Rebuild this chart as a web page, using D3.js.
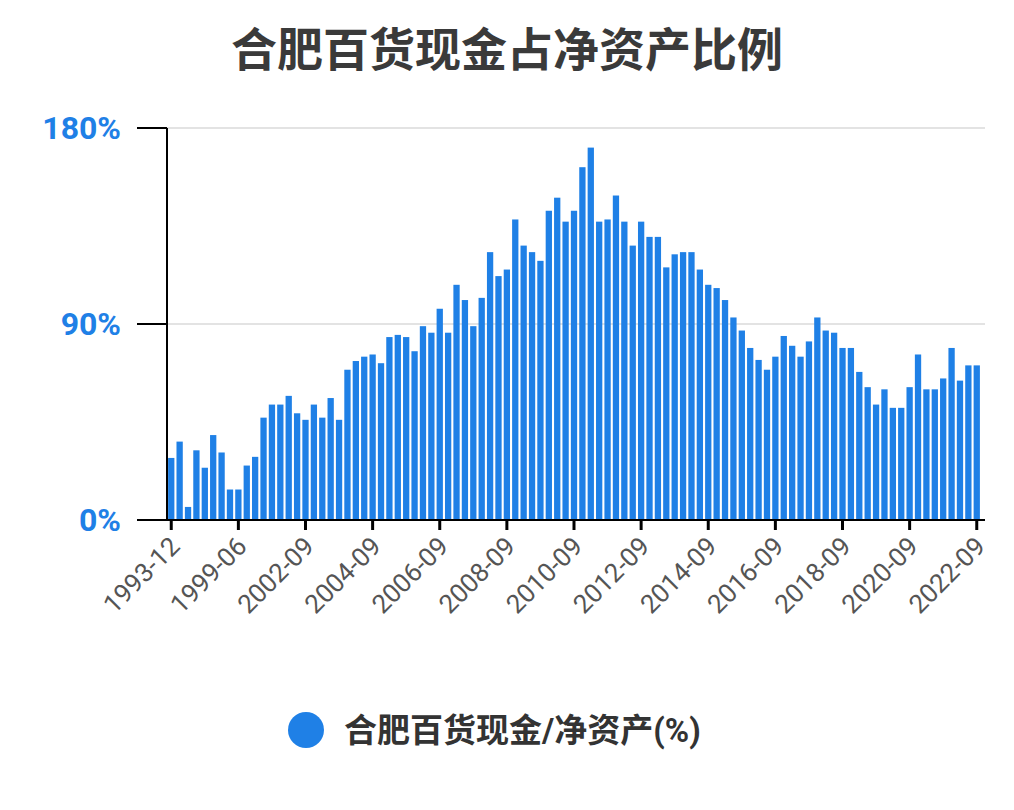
<!DOCTYPE html>
<html>
<head>
<meta charset="utf-8">
<script src="https://d3js.org/d3.v7.min.js"></script>
<style>
  body { margin: 0; background: #fff; }
  text { font-family: Roboto, "Noto Sans CJK SC", sans-serif; }
</style>
</head>
<body>
<svg id="chart" width="1014" height="810"></svg>
<script>
// category labels: early sparse reports, then quarterly from 2002-09
var earlyDates = ["1993-12", "1994-12", "1995-06", "1995-12", "1996-06", "1996-12", "1997-12", "1998-12",
                  "1999-06", "1999-12", "2000-06", "2000-12", "2001-06", "2001-12", "2002-03", "2002-06"];
var quarterDates = [];
for (var yr = 2002; yr <= 2022; yr++) {
  ["03", "06", "09", "12"].forEach(function (m) {
    var d = yr + "-" + m;
    if (d >= "2002-09" && d <= "2022-09") quarterDates.push(d);
  });
}
var dates = earlyDates.concat(quarterDates);

// cash / net assets (%)
var values = [28.5, 36, 6, 32, 24, 39, 31, 14, 14, 25, 29, 47, 53, 53, 57, 49,
              46, 53, 47, 56, 46, 69, 73, 75, 76, 72, 84, 85, 84, 77.5, 89, 86,
              97, 86, 108, 101, 89, 102, 123, 112, 115, 138, 126, 123, 119, 142, 148, 137,
              142, 162, 171, 137, 138, 149, 137, 126, 137, 130, 130, 116, 122, 123, 123, 115,
              108, 106.5, 101, 93, 87, 79, 73.5, 69, 75, 84.5, 80, 75, 82, 93, 87, 86,
              79, 79, 68, 61, 53, 60, 51.5, 51.5, 61, 76, 60, 60, 65, 79, 64, 71, 71];

var tickLabels = ["1993-12", "1999-06", "2002-09", "2004-09", "2006-09", "2008-09", "2010-09",
                  "2012-09", "2014-09", "2016-09", "2018-09", "2020-09", "2022-09"];
var yTicks = [0, 90, 180];

var svg = d3.select("#chart");
var blue = "#1f80e6";

var x = d3.scaleBand().domain(dates).range([166, 982]).padding(0.25);
var y = d3.scaleLinear().domain([0, 180]).range([520, 128]);

// title
svg.append("text").attr("x", 507).attr("y", 66).attr("text-anchor", "middle")
  .attr("font-size", 46).attr("font-weight", "bold").attr("fill", "#3a3a3a")
  .text("合肥百货现金占净资产比例");

// gridlines
svg.selectAll(".grid").data(yTicks.filter(d => d > 0)).enter().append("line")
  .attr("x1", 167).attr("x2", 985)
  .attr("y1", d => y(d)).attr("y2", d => y(d))
  .attr("stroke", "#e3e3e3").attr("stroke-width", 2);

// bars
svg.selectAll(".bar").data(values).enter().append("rect")
  .attr("x", (d, i) => x(dates[i]))
  .attr("width", x.bandwidth())
  .attr("y", d => y(d))
  .attr("height", d => y(0) - y(d))
  .attr("fill", blue);

// y axis
svg.append("line").attr("x1", 167).attr("x2", 167).attr("y1", 128).attr("y2", 521)
  .attr("stroke", "#000").attr("stroke-width", 2);
svg.selectAll(".ylab").data(yTicks).enter().append("text")
  .attr("x", 121).attr("y", d => y(d) + 11).attr("text-anchor", "end")
  .attr("font-size", 32).attr("font-weight", "bold").attr("fill", blue)
  .text(d => d + "%");
svg.selectAll(".ytick").data(yTicks).enter().append("line")
  .attr("x1", 137).attr("x2", 167).attr("y1", d => y(d)).attr("y2", d => y(d))
  .attr("stroke", "#000").attr("stroke-width", 2);

// x axis
svg.append("line").attr("x1", 137).attr("x2", 985).attr("y1", 520).attr("y2", 520)
  .attr("stroke", "#000").attr("stroke-width", 2);
var cx = d => x(d) + x.bandwidth() / 2;
svg.selectAll(".xtick").data(tickLabels).enter().append("line")
  .attr("x1", cx).attr("x2", cx).attr("y1", 520).attr("y2", 530)
  .attr("stroke", "#000").attr("stroke-width", 3);
svg.selectAll(".xlab").data(tickLabels).enter().append("text")
  .attr("transform", d => "translate(" + (cx(d) + 10) + ",548) rotate(-45)")
  .attr("text-anchor", "end").attr("font-size", 26).attr("fill", "#555")
  .text(d => d);

// legend
svg.append("circle").attr("cx", 306).attr("cy", 730).attr("r", 18).attr("fill", blue);
svg.append("text").attr("x", 344).attr("y", 742)
  .attr("font-size", 33).attr("font-weight", "bold").attr("fill", "#333")
  .text("合肥百货现金/净资产(%)");
</script>
</body>
</html>
